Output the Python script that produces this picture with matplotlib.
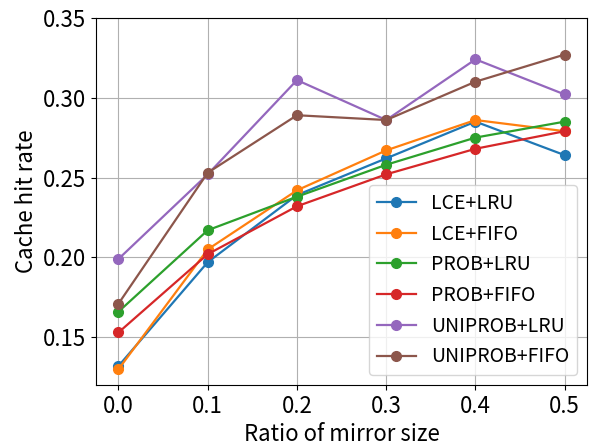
import matplotlib
matplotlib.use("Agg")
import matplotlib.pyplot as plt

plt.rcParams['font.family'] = ['Noto Sans CJK SC', 'DejaVu Sans']

x = [0.0, 0.1, 0.2, 0.3, 0.4, 0.5]
labels = ["LCE+LRU", "LCE+FIFO", "PROB+LRU", "PROB+FIFO", "UNIPROB+LRU", "UNIPROB+FIFO"]
lce_lru = [0.132, 0.197, 0.239, 0.262, 0.285, 0.264]
lce_fifo = [0.130, 0.205, 0.242, 0.267, 0.286, 0.279]
prob_lru = [0.166, 0.217, 0.238, 0.258, 0.275, 0.285]
prob_fifo = [0.153, 0.202, 0.232, 0.252, 0.268, 0.279]
uniprob_lru = [0.199, 0.252, 0.311, 0.286, 0.324, 0.302]
uniprob_fifo = [0.171, 0.253, 0.289, 0.286, 0.310, 0.327]
series = [lce_lru, lce_fifo, prob_lru, prob_fifo, uniprob_lru, uniprob_fifo]

fig, ax = plt.subplots(figsize=(5.9, 4.45), dpi=100)
for s, lab in zip(series, labels):
    ax.plot(x, s, marker='o', markersize=7, linewidth=1.6, label=lab)
ax.set_xlabel("Ratio of mirror size", fontsize=16)
ax.set_ylabel("Cache hit rate", fontsize=16)
ax.tick_params(labelsize=16)
ax.set_yticks([0.15, 0.20, 0.25, 0.30, 0.35])
ax.set_ylim(top=0.35)
ax.grid(True)
ax.legend(loc='lower right', fontsize=14)
fig.subplots_adjust(left=0.163, right=0.995, top=0.96, bottom=0.135)
fig.savefig("out.png")
